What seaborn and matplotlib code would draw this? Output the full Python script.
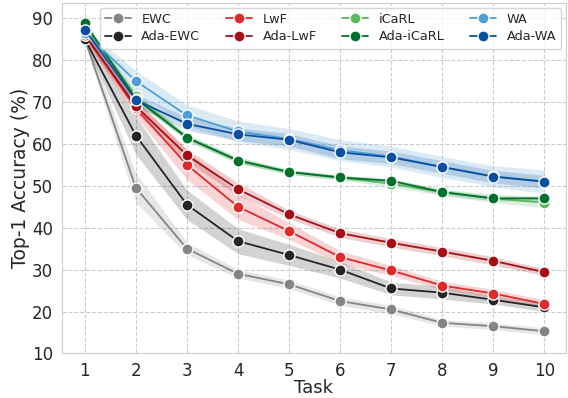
import numpy as np
import pandas as pd
import matplotlib
matplotlib.use("Agg")
import matplotlib.pyplot as plt
import seaborn as sns

tasks = [1, 2, 3, 4, 5, 6, 7, 8, 9, 10]
methods = ["EWC", "Ada-EWC", "LwF", "Ada-LwF", "iCaRL", "Ada-iCaRL", "WA", "Ada-WA"]

ewc = [85.0, 49.5, 35.0, 29.0, 26.5, 22.5, 20.5, 17.3, 16.5, 15.3]
ada_ewc = [85.0, 62.0, 45.5, 36.8, 33.5, 30.0, 25.5, 24.5, 22.8, 21.0]
lwf = [86.0, 68.5, 55.0, 45.0, 39.2, 33.0, 29.8, 26.2, 24.3, 21.8]
ada_lwf = [86.0, 69.0, 57.3, 49.2, 43.2, 38.7, 36.4, 34.3, 32.1, 29.4]
icarl = [88.0, 71.5, 61.5, 56.2, 53.3, 52.0, 50.5, 48.5, 47.0, 46.0]
ada_icarl = [88.8, 70.8, 61.5, 56.0, 53.3, 52.0, 51.2, 48.5, 47.0, 47.0]
wa = [86.5, 75.0, 66.8, 63.0, 61.2, 58.5, 57.0, 54.5, 52.3, 51.0]
ada_wa = [87.3, 70.5, 64.8, 62.3, 61.0, 58.0, 56.8, 54.5, 52.2, 51.0]

# half-width of the shaded band
ewc_sd = [1.0, 3.5, 1.5, 1.0, 1.0, 1.0, 1.0, 0.8, 0.8, 0.8]
ada_ewc_sd = [1.0, 4.5, 3.5, 3.0, 2.5, 2.0, 1.5, 1.5, 1.0, 1.0]
lwf_sd = [1.0, 2.0, 3.5, 3.0, 2.0, 1.5, 1.2, 1.0, 1.0, 1.0]
ada_lwf_sd = [1.0, 1.5, 1.5, 1.5, 1.0, 1.0, 1.0, 1.0, 1.0, 0.8]
icarl_sd = [0.8, 1.0, 0.8, 0.8, 0.6, 0.6, 0.8, 0.8, 1.0, 1.2]
ada_icarl_sd = [0.5, 0.8, 0.6, 0.6, 0.5, 0.5, 0.6, 0.6, 0.6, 0.6]
wa_sd = [1.0, 2.5, 2.5, 2.5, 2.5, 2.5, 2.5, 2.5, 2.5, 2.8]
ada_wa_sd = [0.8, 1.5, 1.5, 1.5, 1.5, 1.5, 1.5, 1.5, 1.5, 1.5]

colors = ["#858585", "#252525", "#e0292b", "#a50f15",
          "#5cb85f", "#00702b", "#4f9fd6", "#0b50a0"]

means = [ewc, ada_ewc, lwf, ada_lwf, icarl, ada_icarl, wa, ada_wa]
sds = [ewc_sd, ada_ewc_sd, lwf_sd, ada_lwf_sd, icarl_sd, ada_icarl_sd, wa_sd, ada_wa_sd]

rows = []
for m, vals in zip(methods, means):
    for t, v in zip(tasks, vals):
        rows.append({"Task": t, "Acc": v, "Method": m})
df = pd.DataFrame(rows)

sns.set_style("whitegrid", {"grid.linestyle": "--", "axes.edgecolor": "#cccccc"})
fig, ax = plt.subplots(figsize=(5.68, 3.98), dpi=100)
fig.subplots_adjust(left=0.109, right=0.996, top=0.992, bottom=0.112)

for m, mu, sd, c in zip(methods, means, sds, colors):
    mu = np.array(mu)
    sd = np.array(sd)
    ax.fill_between(tasks, mu - sd, mu + sd, color=c, alpha=0.2, linewidth=0)

sns.lineplot(data=df, x="Task", y="Acc", hue="Method", hue_order=methods,
             palette=colors, marker="o", markersize=8, markeredgecolor="white",
             markeredgewidth=1, linewidth=1.3, ax=ax)

ax.set_xlim(0.55, 10.42)
ax.set_ylim(10, 93.6)
ax.set_xticks(tasks)
ax.set_yticks(range(10, 91, 10))
ax.tick_params(labelsize=12, pad=3)
ax.set_xlabel("Task", fontsize=13, labelpad=-1)
ax.set_ylabel("Top-1 Accuracy (%)", fontsize=13.5, labelpad=1)
ax.legend(ncol=4, loc="upper right", fontsize=9.3, frameon=True,
          handlelength=2, columnspacing=2.0, labelspacing=0.35,
          borderaxespad=0.35)

plt.savefig("out.png", dpi=100)
